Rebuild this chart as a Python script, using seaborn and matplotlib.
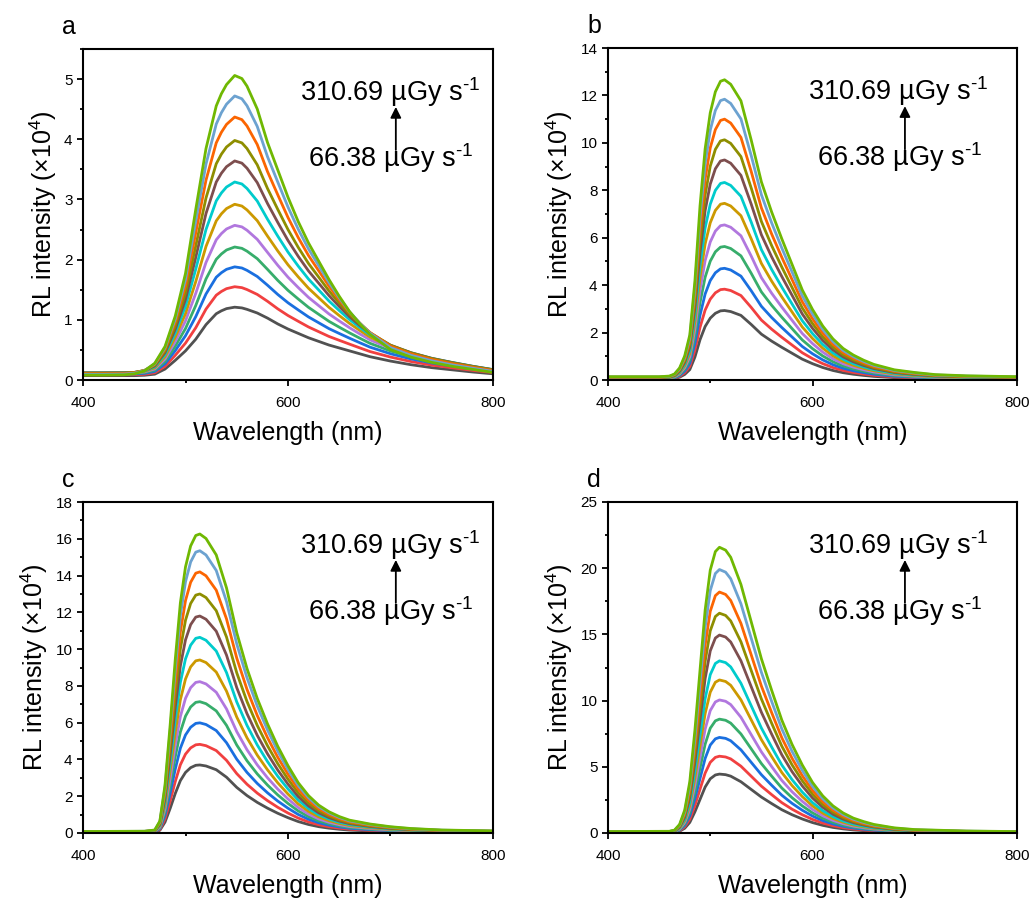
import numpy as np
import pandas as pd
import matplotlib
matplotlib.use("Agg")
import matplotlib.pyplot as plt
import seaborn as sns
from matplotlib.ticker import MultipleLocator

sns.set_theme(style="ticks")
plt.rcParams["font.family"] = ["Liberation Sans", "DejaVu Sans"]
plt.rcParams["mathtext.fontset"] = "custom"
plt.rcParams["mathtext.rm"] = "Liberation Sans"
plt.rcParams["mathtext.it"] = "Liberation Sans:italic"
plt.rcParams["mathtext.default"] = "regular"
plt.rcParams["text.color"] = "black"
plt.rcParams["axes.labelcolor"] = "black"
plt.rcParams["xtick.color"] = "black"
plt.rcParams["ytick.color"] = "black"

# ---------------- data ----------------
colors = ["#515151", "#F14040", "#1A6FDF", "#37AD6B", "#B177DE", "#CC9900",
          "#00CBCC", "#7D4E4E", "#8E8E00", "#FB6501", "#6CA2D0", "#6FB802"]

# panel a
wl_a = [400, 420, 440, 450, 460, 470, 480, 490, 500, 510, 520, 530, 535, 540, 548,
        555, 560, 570, 580, 590, 600, 610, 620, 630, 640, 650, 660, 670, 680, 690,
        700, 720, 740, 760, 780, 800]
shape_a_low = [0.06, 0.06, 0.06, 0.06, 0.065, 0.08, 0.15, 0.27, 0.40, 0.56, 0.76,
               0.91, 0.95, 0.98, 1.0, 0.99, 0.97, 0.92, 0.85, 0.77, 0.70, 0.64,
               0.58, 0.53, 0.48, 0.44, 0.40, 0.36, 0.32, 0.29, 0.26, 0.21, 0.17,
               0.14, 0.11, 0.085]
shape_a_high = [0.016, 0.016, 0.017, 0.02, 0.03, 0.055, 0.11, 0.21, 0.35, 0.56, 0.76,
                0.90, 0.94, 0.97, 1.0, 0.99, 0.965, 0.89, 0.78, 0.69, 0.60, 0.52,
                0.45, 0.39, 0.33, 0.275, 0.225, 0.185, 0.15, 0.125, 0.10, 0.075,
                0.058, 0.045, 0.035, 0.025]
peaks_a = [1.21, 1.55, 1.88, 2.21, 2.57, 2.92, 3.29, 3.64, 3.98, 4.37, 4.72, 5.06]

# panel b
wl_b = [400, 450, 460, 465, 470, 475, 480, 485, 490, 495, 500, 505, 510, 514,
        520, 530, 540, 550, 560, 570, 580, 590, 600, 610, 620, 630, 640, 650,
        660, 680, 700, 720, 750, 800]
shape_b = [0.011, 0.011, 0.013, 0.02, 0.04, 0.08, 0.15, 0.33, 0.58, 0.77, 0.89,
           0.96, 0.995, 1.0, 0.985, 0.93, 0.80, 0.66, 0.56, 0.47, 0.385, 0.30,
           0.235, 0.18, 0.137, 0.105, 0.083, 0.066, 0.052, 0.034, 0.025, 0.018,
           0.014, 0.011]
peaks_b = [2.93, 3.83, 4.71, 5.63, 6.54, 7.45, 8.33, 9.28, 10.13, 11.0, 11.84, 12.66]

# panel c
wl_c = [400, 460, 470, 475, 480, 485, 490, 495, 500, 505, 510, 514, 520, 530,
        540, 550, 560, 570, 580, 590, 600, 610, 620, 630, 640, 650, 660, 680,
        700, 720, 750, 800]
shape_c = [0.005, 0.006, 0.01, 0.04, 0.16, 0.36, 0.58, 0.77, 0.89, 0.96, 0.995,
           1.0, 0.985, 0.93, 0.82, 0.67, 0.55, 0.45, 0.365, 0.29, 0.225, 0.168,
           0.125, 0.093, 0.071, 0.055, 0.043, 0.03, 0.021, 0.015, 0.01, 0.007]
peaks_c = [3.70, 4.82, 5.99, 7.14, 8.23, 9.41, 10.64, 11.8, 13.0, 14.2, 15.35, 16.26]

# panel d
wl_d = [400, 460, 465, 470, 475, 480, 485, 490, 495, 500, 505, 509, 515, 520,
        530, 540, 550, 560, 570, 580, 590, 600, 610, 620, 630, 640, 650, 660,
        680, 700, 750, 800]
shape_d = [0.005, 0.006, 0.01, 0.03, 0.08, 0.18, 0.36, 0.57, 0.78, 0.92, 0.985,
           1.0, 0.99, 0.965, 0.87, 0.74, 0.61, 0.50, 0.395, 0.31, 0.238, 0.177,
           0.13, 0.095, 0.07, 0.052, 0.04, 0.03, 0.018, 0.012, 0.007, 0.005]
peaks_d = [4.45, 5.80, 7.22, 8.60, 10.05, 11.56, 13.0, 14.95, 16.6, 18.2, 19.9, 21.58]

ymax = [5.5, 14, 18, 25]
ymajor = [1, 2, 2, 5]
letters = ["a", "b", "c", "d"]
text_hi = "310.69 \u00b5Gy s$^{\\text{-1}}$"
text_lo = "66.38 \u00b5Gy s$^{\\text{-1}}$"

panels = [
    (wl_a, shape_a_low, shape_a_high, peaks_a),
    (wl_b, shape_b, shape_b, peaks_b),
    (wl_c, shape_c, shape_c, peaks_c),
    (wl_d, shape_d, shape_d, peaks_d),
]

# ---------------- figure ----------------
W, H = 1035, 908
fig = plt.figure(figsize=(W / 100, H / 100), dpi=100)
fig.patch.set_facecolor("white")

boxes = [(83, 49, 493, 380), (608, 48, 1017, 380),
         (83, 502, 493, 833), (608, 502, 1017, 833)]
text_x = [0.53, 0.49, 0.53, 0.49]
arrow_x = [0.763, 0.726, 0.763, 0.726]

for i, (wl, s_low, s_high, peaks) in enumerate(panels):
    l, t, r, b = boxes[i]
    ax = fig.add_axes([l / W, (H - b) / H, (r - l) / W, (b - t) / H])
    s_low = np.asarray(s_low)
    s_high = np.asarray(s_high)
    pmin, pmax = min(peaks), max(peaks)
    for k, p in enumerate(peaks):
        w = (p - pmin) / (pmax - pmin)
        y = p * ((1 - w) * s_low + w * s_high)
        df = pd.DataFrame({"wl": wl, "I": y})
        sns.lineplot(data=df, x="wl", y="I", ax=ax, color=colors[k], lw=2.0,
                     estimator=None, sort=False, legend=False)
    ax.set_xlim(400, 800)
    ax.set_ylim(0, ymax[i])
    ax.xaxis.set_major_locator(MultipleLocator(200))
    ax.xaxis.set_minor_locator(MultipleLocator(100))
    ax.yaxis.set_major_locator(MultipleLocator(ymajor[i]))
    ax.yaxis.set_minor_locator(MultipleLocator(ymajor[i] / 2))
    for sp in ax.spines.values():
        sp.set_visible(True)
        sp.set_linewidth(1.5)
        sp.set_color("black")
    ax.tick_params(which="major", direction="out", length=4.5, width=1.3,
                   labelsize=11, color="black", labelcolor="black",
                   top=False, right=False, left=True, bottom=True)
    ax.tick_params(which="minor", direction="out", length=2.5, width=1.3,
                   color="black", top=False, right=False, left=True, bottom=True)
    ax.tick_params(axis="x", which="major", pad=7)
    ax.tick_params(axis="y", which="major", pad=3)
    ax.set_xlabel("Wavelength (nm)", fontsize=18, labelpad=8, color="black")
    ax.set_ylabel("RL intensity (\u00d710$^{4}$)", fontsize=18, labelpad=4,
                  color="black")
    ax.set_facecolor("white")
    ax.grid(False)

    ax.text(text_x[i], 0.87, text_hi, transform=ax.transAxes, fontsize=19.5,
            ha="left", va="center", color="black")
    ax.text(text_x[i] + 0.02, 0.67, text_lo, transform=ax.transAxes,
            fontsize=19.5, ha="left", va="center", color="black")
    ax.annotate("", xy=(arrow_x[i], 0.825), xytext=(arrow_x[i], 0.695),
                xycoords="axes fraction",
                arrowprops=dict(arrowstyle="-|>", color="black", lw=1.3,
                                mutation_scale=16, shrinkA=0, shrinkB=0))

    fig.text((l - 21) / W, 1 - (t - 15) / H, letters[i], fontsize=18,
             ha="left", va="baseline", color="black")

fig.savefig("out.png", dpi=100, facecolor="white")
